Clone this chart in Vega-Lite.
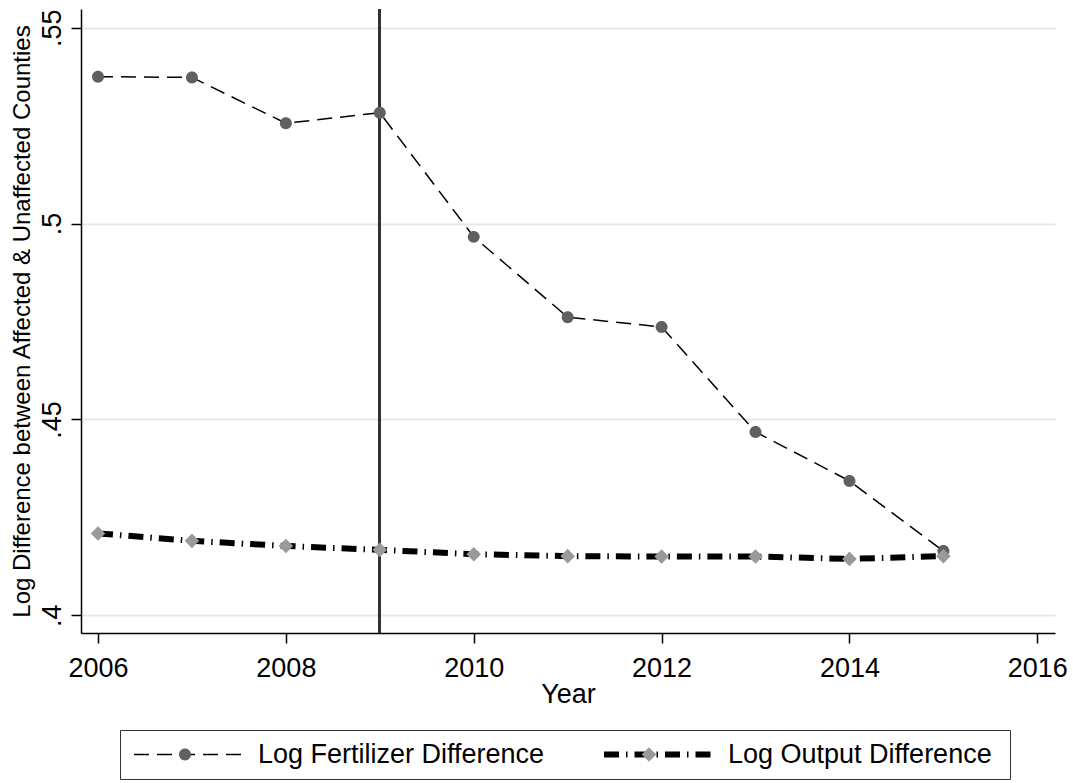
{
  "$schema": "https://vega.github.io/schema/vega-lite/v6.json",
  "width": 974,
  "height": 624,
  "autosize": {"type": "none"},
  "padding": {"left": 81, "top": 9, "right": 18, "bottom": 150},
  "background": "white",
  "config": {
    "view": {"stroke": null},
    "font": "Liberation Sans",
    "axis": {
      "labelFont": "Liberation Sans",
      "titleFont": "Liberation Sans",
      "labelColor": "black",
      "titleColor": "black",
      "titleFontWeight": "normal",
      "domainColor": "black",
      "domainWidth": 1.5,
      "tickColor": "black",
      "tickWidth": 1.5,
      "tickSize": 10
    },
    "legend": {"labelFont": "Liberation Sans", "labelLimit": 500}
  },
  "data": {
    "values": [
      {"year": 2006, "value": 0.5375, "series": "Log Fertilizer Difference"},
      {"year": 2007, "value": 0.5373, "series": "Log Fertilizer Difference"},
      {"year": 2008, "value": 0.5256, "series": "Log Fertilizer Difference"},
      {"year": 2009, "value": 0.5283, "series": "Log Fertilizer Difference"},
      {"year": 2010, "value": 0.4966, "series": "Log Fertilizer Difference"},
      {"year": 2011, "value": 0.4761, "series": "Log Fertilizer Difference"},
      {"year": 2012, "value": 0.4736, "series": "Log Fertilizer Difference"},
      {"year": 2013, "value": 0.4468, "series": "Log Fertilizer Difference"},
      {"year": 2014, "value": 0.4343, "series": "Log Fertilizer Difference"},
      {"year": 2015, "value": 0.4164, "series": "Log Fertilizer Difference"},
      {"year": 2006, "value": 0.4209, "series": "Log Output Difference"},
      {"year": 2007, "value": 0.4190, "series": "Log Output Difference"},
      {"year": 2008, "value": 0.4177, "series": "Log Output Difference"},
      {"year": 2009, "value": 0.4167, "series": "Log Output Difference"},
      {"year": 2010, "value": 0.4156, "series": "Log Output Difference"},
      {"year": 2011, "value": 0.4151, "series": "Log Output Difference"},
      {"year": 2012, "value": 0.4150, "series": "Log Output Difference"},
      {"year": 2013, "value": 0.4150, "series": "Log Output Difference"},
      {"year": 2014, "value": 0.4144, "series": "Log Output Difference"},
      {"year": 2015, "value": 0.4151, "series": "Log Output Difference"}
    ]
  },
  "encoding": {
    "x": {
      "field": "year",
      "type": "quantitative",
      "scale": {"domain": [2005.819, 2016.188], "nice": false, "zero": false},
      "axis": {
        "title": "Year",
        "values": [2006, 2008, 2010, 2012, 2014, 2016],
        "format": "d",
        "grid": false,
        "labelFontSize": 27,
        "labelPadding": 12,
        "titleFontSize": 27,
        "titlePadding": 0
      }
    },
    "y": {
      "field": "value",
      "type": "quantitative",
      "scale": {"domain": [0.39548, 0.55477], "nice": false, "zero": false},
      "axis": {
        "title": "Log Difference between Affected & Unaffected Counties",
        "values": [0.4, 0.45, 0.5, 0.55],
        "labelExpr": "substring(format(datum.value, '.2~f'), 1)",
        "grid": true,
        "gridColor": "#e8e8e8",
        "gridWidth": 2,
        "labelAngle": -90,
        "labelAlign": "center",
        "labelBaseline": "alphabetic",
        "labelFontSize": 27,
        "labelPadding": 11,
        "titleFontSize": 24,
        "titlePadding": 4
      }
    }
  },
  "layer": [
    {
      "mark": {"type": "rule", "color": "#333333", "strokeWidth": 2},
      "encoding": {"x": {"datum": 2009}, "y": null}
    },
    {
      "mark": {"type": "line", "color": "black"},
      "encoding": {
        "strokeDash": {
          "field": "series",
          "type": "nominal",
          "scale": {"range": [[15, 8], [15, 7, 1.5, 7]]},
          "legend": {
            "title": null,
            "orient": "none",
            "legendX": 39,
            "legendY": 721,
            "direction": "horizontal",
            "columns": 2,
            "symbolType": "stroke",
            "symbolSize": 11664,
            "symbolStrokeColor": "black",
            "clipHeight": 27,
            "labelFontSize": 27,
            "labelColor": "black",
            "labelOffset": 13,
            "columnPadding": 56,
            "padding": 11
          }
        },
        "strokeWidth": {
          "field": "series",
          "type": "nominal",
          "scale": {"type": "point", "padding": 0, "range": [1.5, 6]},
          "legend": {
            "title": null,
            "orient": "none",
            "legendX": 39,
            "legendY": 721,
            "direction": "horizontal",
            "columns": 2,
            "symbolType": "stroke",
            "symbolSize": 11664,
            "symbolStrokeColor": "black",
            "clipHeight": 27,
            "labelFontSize": 27,
            "labelColor": "black",
            "labelOffset": 13,
            "columnPadding": 56,
            "padding": 11
          }
        }
      }
    },
    {
      "mark": {"type": "point", "filled": true, "size": 11664, "opacity": 1, "strokeWidth": 0},
      "encoding": {
        "shape": {
          "field": "series",
          "type": "nominal",
          "scale": {
            "domain": ["Log Fertilizer Difference", "Log Output Difference"],
            "range": [
              "M-1,0L-1,0M1,0L1,0M0.111,0A0.111,0.111,0,1,1,-0.111,0A0.111,0.111,0,1,1,0.111,0Z",
              "M-1,0L-1,0M1,0L1,0M0,-0.135L0.135,0L0,0.135L-0.135,0Z"
            ]
          },
          "legend": {
            "title": null,
            "orient": "none",
            "legendX": 39,
            "legendY": 721,
            "direction": "horizontal",
            "columns": 2,
            "symbolSize": 11664,
            "symbolStrokeWidth": 0,
            "symbolOpacity": 1,
            "clipHeight": 27,
            "labelFontSize": 27,
            "labelExpr": "''",
            "labelOffset": 296,
            "columnPadding": 60,
            "padding": 11,
            "strokeColor": "#333333"
          }
        },
        "color": {
          "field": "series",
          "type": "nominal",
          "scale": {
            "domain": ["Log Fertilizer Difference", "Log Output Difference"],
            "range": ["#606060", "#9a9a9a"]
          },
          "legend": {
            "title": null,
            "orient": "none",
            "legendX": 39,
            "legendY": 721,
            "direction": "horizontal",
            "columns": 2,
            "symbolSize": 11664,
            "symbolStrokeWidth": 0,
            "symbolOpacity": 1,
            "clipHeight": 27,
            "labelFontSize": 27,
            "labelExpr": "''",
            "labelOffset": 296,
            "columnPadding": 60,
            "padding": 11,
            "strokeColor": "#333333"
          }
        }
      }
    }
  ]
}
